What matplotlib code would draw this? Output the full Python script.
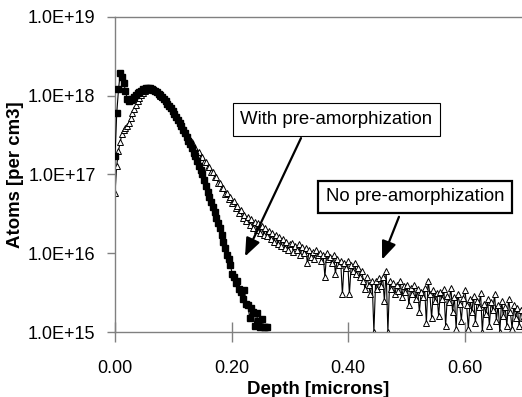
import numpy as np
import matplotlib
matplotlib.use("Agg")
import matplotlib.pyplot as plt
from matplotlib.ticker import FixedLocator, FuncFormatter, NullLocator

plt.rcParams['font.family'] = ['Liberation Sans', 'DejaVu Sans']

# depth grid of the SIMS profiles [microns]
depth_step = 0.003

# concentrations in units of 1e15 atoms/cm3
with_pa = [
    170, 600, 1200, 1950, 1750, 1450, 1150, 900, 850, 870,
    920, 970, 1020, 1070, 1120, 1160, 1200, 1230, 1250, 1250,
    1240, 1220, 1190, 1150, 1110, 1060, 1010, 960, 900, 850,
    790, 740, 690, 640, 590, 540, 495, 450, 410, 370,
    335, 300, 270, 245, 215, 190, 170, 150, 130, 115,
    100, 85, 72, 60, 52, 45, 39, 33, 28, 24,
    21, 17, 14, 11.5, 9.5, 8.5, 7, 5.5, 5.0, 4.2,
    4.5, 3.5, 3.2, 2.6, 3.4, 2.3, 2.2, 1.5, 2.0, 1.8,
    1.2, 1.75, 1.4, 1.15, 1.45, 1.15, 1.15, 1.15,
]

no_pa = [
    58, 130, 200, 260, 330, 370, 390, 410, 450, 520,
    600, 680, 770, 860, 940, 1020, 1090, 1140, 1180, 1200,
    1200, 1190, 1170, 1140, 1100, 1050, 1000, 950, 900, 850,
    795, 745, 695, 645, 600, 555, 510, 470, 430, 395,
    360, 330, 300, 275, 260, 225, 220, 192, 192, 168,
    166, 145, 146, 126, 126, 108, 109, 92, 93, 79,
    79, 67, 68, 57, 59, 49, 52, 43, 46, 38,
    40, 32, 35, 28, 31, 26, 29, 23, 27, 21,
    25, 19.5, 24, 18, 22, 17, 21, 16.5, 19, 15,
    18, 14, 17, 13, 16, 12.5, 15, 11.5, 14, 11,
    13, 13.5, 10.5, 12.5, 11, 13, 9.5, 12, 10, 11.5,
    7.5, 11, 9, 10.5, 8.5, 11, 9.5, 10, 8, 9.5,
    5, 10, 8.5, 9, 7.5, 9.5, 5.5, 8.5, 7, 8,
    3, 7.5, 6.5, 8, 3, 7, 6, 7.5, 5.5, 6.5,
    5, 6, 4.5, 3.5, 5, 4, 3, 4.5, 1.0, 4.5,
    3.5, 4.8, 3.8, 5, 2.5, 6, 1.0, 4.5, 3.5, 4.2,
    3, 4, 3.3, 4.5, 2.8, 3.8, 3.2, 4, 2.2, 3.6,
    3, 3.9, 2.6, 3.5, 1.8, 3.2, 2.8, 3.6, 1.3, 4.5,
    3, 1.5, 3.4, 2.5, 3.1, 1.6, 3.2, 2.6, 3.5, 1.2,
    2.9, 2.4, 3.6, 1.8, 2.8, 1.1, 3, 2.3, 1.4, 2.7,
    3.4, 2.2, 1.1, 2.6, 1.8, 2.9, 1.3, 2.5, 2.1, 3.1,
    1.0, 2.3, 1.7, 2.6, 1.2, 2.4, 1.9, 3.0, 1.4, 2.2,
    1.0, 2.5, 1.6, 2.1, 1.2, 2.6, 1.8, 1.1, 2.2, 1.5,
    2.0, 1.2, 1.9, 1.5,
]

unit = 1e15
x_ticks = [0.0, 0.2, 0.4, 0.6]
y_ticks = [1e15, 1e16, 1e17, 1e18, 1e19]

d_with = np.arange(len(with_pa)) * depth_step
d_no = np.arange(len(no_pa)) * depth_step

fig = plt.figure(figsize=(5.22, 3.97), dpi=100)
ax = fig.add_axes([0.2203, 0.1637, 0.7797, 0.7936])

ax.plot(d_no, np.array(no_pa) * unit, color='black', lw=0.8,
        marker='^', ms=5.0, mfc='white', mec='black', mew=0.7, zorder=2)
ax.plot(d_with, np.array(with_pa) * unit, color='black', lw=0.8,
        marker='s', ms=4.0, mfc='black', mec='black', zorder=3)

ax.set_yscale('log')
ax.set_xlim(0, 0.698)
ax.set_ylim(1e15, 1e19)

ax.xaxis.set_major_locator(FixedLocator(x_ticks))
ax.xaxis.set_major_formatter(FuncFormatter(lambda v, p: f"{v:.2f}"))
ax.yaxis.set_major_locator(FixedLocator(y_ticks))
ax.yaxis.set_minor_locator(NullLocator())
ax.yaxis.set_major_formatter(FuncFormatter(
    lambda v, p: f"1.0E+{int(round(np.log10(v)))}"))

gray = '#808080'
for side in ['left', 'bottom', 'top']:
    ax.spines[side].set_color(gray)
    ax.spines[side].set_linewidth(1.0)
ax.spines['right'].set_visible(False)

ax.tick_params(axis='x', direction='inout', length=14, width=1.0,
               color=gray, labelsize=13, pad=13)
ax.tick_params(axis='y', direction='out', length=6, width=1.0,
               color=gray, labelsize=13, pad=8)

ax.set_xlabel('Depth [microns]', fontsize=13.4, fontweight='bold', labelpad=3)
ax.set_ylabel('Atoms [per cm3]', fontsize=13.4, fontweight='bold', labelpad=3)

# callouts
ax.text(0.3797, 4.97e17, 'With pre-amorphization', fontsize=13.4,
        ha='center', va='center', zorder=5,
        bbox=dict(boxstyle='square,pad=0.42', fc='white', ec='black', lw=0.8))
ax.text(0.5143, 5.19e16, 'No pre-amorphization', fontsize=13.4,
        ha='center', va='center', zorder=5,
        bbox=dict(boxstyle='square,pad=0.42', fc='white', ec='black', lw=1.6))

arrow = dict(arrowstyle='-|>,head_length=0.55,head_width=0.22',
             color='black', lw=1.6, mutation_scale=20, shrinkA=0, shrinkB=0)
ax.annotate('', xy=(0.223, 9.1e15), xytext=(0.319, 2.9e17),
            arrowprops=arrow, zorder=6)
ax.annotate('', xy=(0.458, 8.3e15), xytext=(0.487, 2.9e16),
            arrowprops=arrow, zorder=6)

fig.savefig('out.png', dpi=100)
